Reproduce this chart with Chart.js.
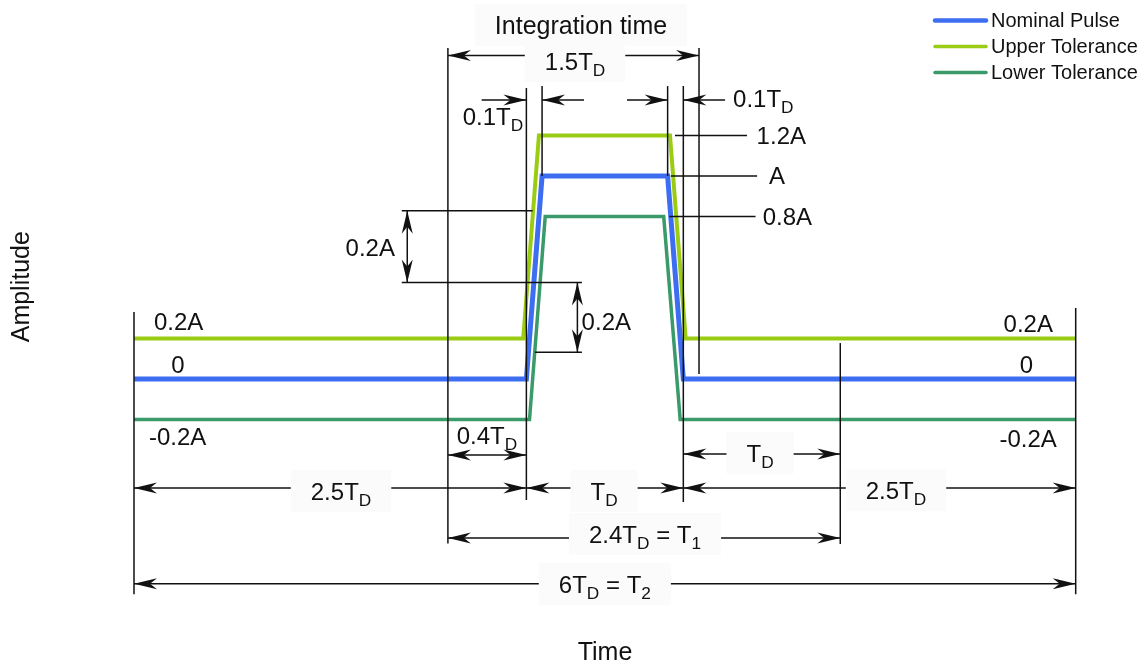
<!DOCTYPE html>
<html>
<head>
<meta charset="utf-8">
<script src="https://cdn.jsdelivr.net/npm/chart.js@4.4.1/dist/chart.umd.min.js"></script>
<style>
  html, body { margin: 0; padding: 0; background: #fff; }
  #wrap { width: 1145px; height: 662px; position: relative; }
</style>
</head>
<body>
<div id="wrap"><canvas id="pulseChart"></canvas></div>
<script>
// time in units of T_D, amplitude in units of A
const seriesNames = ['Nominal Pulse', 'Upper Tolerance', 'Lower Tolerance'];
const nominalTime = [0, 2.5, 2.6, 3.4, 3.5, 6];
const nominalAmp = [0, 0, 1, 1, 0, 0];
const upperTime = [0, 2.48, 2.58, 3.415, 3.515, 6];
const upperAmp = [0.2, 0.2, 1.2, 1.2, 0.2, 0.2];
const lowerTime = [0, 2.52, 2.62, 3.375, 3.48, 6];
const lowerAmp = [-0.2, -0.2, 0.8, 0.8, -0.2, -0.2];

// dimension drawing, in the same units: [t, amp from, amp to]
const extLines = [
  [0, 0.33, -1.06], [6, 0.35, -1.06], [2.0, 1.63, -0.81], [2.5, 1.433, -0.596],
  [2.6, 1.443, 1.0], [3.4, 1.443, 1.0], [3.5, 1.443, -0.606], [3.6, 1.63, 0.025],
  [4.5, 0.177, -0.813]
];
// [amp, t from, t to]
const levelLines = [
  [1.2, 3.447, 3.906], [1.0, 3.42, 3.97], [0.8, 3.41, 3.96],
  [0.829, 1.706, 2.54], [0.476, 1.706, 2.854], [0.1315, 2.555, 2.854]
];
// [t1, amp1, t2, amp2, heads]
const dimArrows = [
  [2.0, 1.594, 3.6, 1.594, 'both'],
  [2.215, 1.374, 2.5, 1.374, 'end'], [2.867, 1.374, 2.6, 1.374, 'end'],
  [3.141, 1.374, 3.4, 1.374, 'end'], [3.766, 1.374, 3.5, 1.374, 'end'],
  [1.741, 0.829, 1.741, 0.476, 'both'], [2.825, 0.476, 2.825, 0.1315, 'both'],
  [2.0, -0.374, 2.5, -0.374, 'both'], [3.5, -0.369, 4.5, -0.369, 'both'],
  [0, -0.537, 2.5, -0.537, 'both'], [2.5, -0.537, 3.5, -0.537, 'both'],
  [3.5, -0.537, 6, -0.537, 'both'], [2.0, -0.783, 4.5, -0.783, 'both'],
  [0, -1.008, 6, -1.008, 'both']
];
// [text, t, amp (baseline), align, box, size]
const dimLabels = [
  ['Integration time', 2.848, 1.70, 'center', true, 25],
  ['1.5T_D', 2.81, 1.522, 'center', true, 24],
  ['0.1T_D', 2.287, 1.251, 'center', false, 24],
  ['0.1T_D', 3.817, 1.3385, 'left', false, 24],
  ['1.2A', 3.967, 1.1576, 'left', false, 24],
  ['A', 4.046, 0.9606, 'left', false, 24],
  ['0.8A', 4.006, 0.7586, 'left', false, 24],
  ['0.2A', 1.348, 0.607, 'left', false, 24],
  ['0.2A', 2.852, 0.241, 'left', false, 24],
  ['0.2A', 0.127, 0.241, 'left', false, 24],
  ['0', 0.28, 0.03, 'center', false, 24],
  ['-0.2A', 0.0956, -0.325, 'left', false, 24],
  ['0.2A', 5.855, 0.2315, 'right', false, 24],
  ['0', 5.686, 0.028, 'center', false, 24],
  ['-0.2A', 5.88, -0.333, 'right', false, 24],
  ['0.4T_D', 2.249, -0.32, 'center', false, 24],
  ['T_D', 3.989, -0.41, 'center', true, 24],
  ['2.5T_D', 1.319, -0.596, 'center', true, 24],
  ['T_D', 2.995, -0.596, 'center', true, 24],
  ['2.5T_D', 4.855, -0.593, 'center', true, 24],
  ['2.4T_D = T_1', 3.256, -0.808, 'center', true, 24],
  ['6T_D = T_2', 3.0, -1.054, 'center', true, 24]
];

const FONT = "'Liberation Sans', Arial, sans-serif";
const colors = ['#3d6ef2', '#9bcc14', '#3a9a6a'];
const widths = [5, 4, 3.5];

function toPoints(ts, amps) {
  return ts.map((t, i) => ({ x: t, y: amps[i] }));
}

function arrowHead(ctx, tx, ty, fx, fy) {
  const len = Math.hypot(tx - fx, ty - fy);
  const dx = (tx - fx) / len, dy = (ty - fy) / len;
  const nx = -dy, ny = dx;
  const L = 23, W = 5.5, N = 16;
  ctx.beginPath();
  ctx.moveTo(tx, ty);
  ctx.lineTo(tx - dx * L + nx * W, ty - dy * L + ny * W);
  ctx.lineTo(tx - dx * N, ty - dy * N);
  ctx.lineTo(tx - dx * L - nx * W, ty - dy * L - ny * W);
  ctx.closePath();
  ctx.fill();
}

function drawRich(ctx, str, xPos, yBase, align, size, box) {
  const parts = [];
  for (let i = 0; i < str.length; i++) {
    if (str[i] === '_' && i + 1 < str.length) {
      parts.push({ s: str[i + 1], sub: true });
      i++;
    } else if (parts.length && !parts[parts.length - 1].sub) {
      parts[parts.length - 1].s += str[i];
    } else {
      parts.push({ s: str[i], sub: false });
    }
  }
  const subSize = size * 0.72;
  let w = 0;
  parts.forEach(p => {
    ctx.font = (p.sub ? subSize : size) + 'px ' + FONT;
    p.w = ctx.measureText(p.s).width;
    w += p.w;
  });
  let x0 = align === 'center' ? xPos - w / 2 : align === 'right' ? xPos - w : xPos;
  if (box) {
    ctx.fillStyle = '#fbfbfb';
    ctx.fillRect(x0 - 20, yBase - 30, w + 40, 42);
  }
  ctx.fillStyle = '#111';
  ctx.textAlign = 'left';
  ctx.textBaseline = 'alphabetic';
  parts.forEach(p => {
    ctx.font = (p.sub ? subSize : size) + 'px ' + FONT;
    ctx.fillText(p.s, x0, p.sub ? yBase + size * 0.25 : yBase);
    x0 += p.w;
  });
}

const dimensionPlugin = {
  id: 'dimensions',
  afterDatasetsDraw(chart) {
    const { ctx } = chart;
    const xs = chart.scales.x, ys = chart.scales.y;
    const px = v => xs.getPixelForValue(v);
    const py = v => ys.getPixelForValue(v);
    ctx.save();
    ctx.strokeStyle = '#111';
    ctx.fillStyle = '#111';
    ctx.lineWidth = 1.5;

    const seg = (x1, y1, x2, y2) => {
      ctx.beginPath();
      ctx.moveTo(x1, y1);
      ctx.lineTo(x2, y2);
      ctx.stroke();
    };
    extLines.forEach(([t, a, b]) => seg(px(t), py(a), px(t), py(b)));
    levelLines.forEach(([a, t1, t2]) => seg(px(t1), py(a), px(t2), py(a)));
    dimArrows.forEach(([t1, a1, t2, a2, heads]) => {
      const x1 = px(t1), y1 = py(a1), x2 = px(t2), y2 = py(a2);
      seg(x1, y1, x2, y2);
      arrowHead(ctx, x2, y2, x1, y1);
      if (heads === 'both') arrowHead(ctx, x1, y1, x2, y2);
    });
    dimLabels.forEach(([text, t, a, align, box, size]) => {
      drawRich(ctx, text, px(t), py(a), align, size, box);
    });

    // legend, top right
    const lx = chart.width - 210;
    seriesNames.forEach((name, i) => {
      const yy = 20.5 + i * 26;
      ctx.strokeStyle = colors[i];
      ctx.lineWidth = i === 0 ? 4.5 : 3.5;
      ctx.lineCap = 'round';
      seg(lx, yy, lx + 51, yy);
      ctx.fillStyle = '#111';
      ctx.font = '20px ' + FONT;
      ctx.textAlign = 'left';
      ctx.textBaseline = 'middle';
      ctx.fillText(name, lx + 56, yy + 1);
    });
    ctx.restore();
  }
};

new Chart(document.getElementById('pulseChart'), {
  type: 'line',
  data: {
    datasets: [
      { label: seriesNames[0], data: toPoints(nominalTime, nominalAmp) },
      { label: seriesNames[1], data: toPoints(upperTime, upperAmp) },
      { label: seriesNames[2], data: toPoints(lowerTime, lowerAmp) }
    ].map((d, i) => Object.assign(d, {
      borderColor: colors[i],
      borderWidth: widths[i],
      pointRadius: 0,
      tension: 0,
      fill: false,
      borderJoinStyle: 'miter'
    }))
  },
  options: {
    responsive: true,
    maintainAspectRatio: false,
    animation: false,
    layout: { padding: { top: 8, left: 0, right: 5, bottom: 0 } },
    plugins: { legend: { display: false }, tooltip: { enabled: false } },
    scales: {
      x: {
        type: 'linear', min: -0.4078, max: 6.4097,
        ticks: { display: false },
        grid: { display: false, drawTicks: false },
        border: { display: false },
        title: { display: true, text: 'Time', color: '#111', font: { size: 25, family: FONT, lineHeight: 1 }, padding: { top: 75.6, bottom: -4 } }
      },
      y: {
        type: 'linear', min: -0.9182, max: 1.8276,
        ticks: { display: false },
        grid: { display: false, drawTicks: false },
        border: { display: false },
        title: { display: true, text: 'Amplitude', color: '#111', font: { size: 25, family: FONT, lineHeight: 1 }, padding: { top: 9.5, bottom: 35.5 } }
      }
    }
  },
  plugins: [dimensionPlugin]
});
</script>
</body>
</html>
